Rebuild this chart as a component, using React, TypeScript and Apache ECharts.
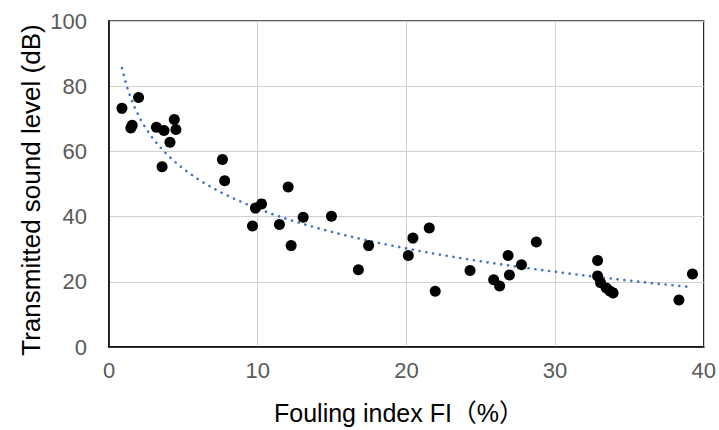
import React, { useEffect, useRef } from "react";
import * as echarts from "echarts";

const foulingIndex = [
  0.87, 1.47, 1.56, 1.99, 3.19, 3.57, 3.7, 4.1, 4.39, 4.5, 7.63, 7.78, 9.65, 9.85,
  10.26, 11.46, 12.05, 12.25, 13.06, 14.96, 16.77, 17.46, 20.13, 20.44, 21.54, 21.94,
  24.28, 25.87, 26.27, 26.84, 26.93, 27.74, 28.74, 32.86, 32.86, 33.06, 33.44, 33.69,
  33.9, 38.33, 39.24,
];
const soundLevel = [
  73.2, 67.2, 68.0, 76.5, 67.4, 55.3, 66.4, 62.8, 69.8, 66.7, 57.5, 51.0, 37.1, 42.6,
  43.9, 37.6, 49.1, 31.1, 39.8, 40.1, 23.7, 31.1, 28.1, 33.4, 36.5, 17.1, 23.5, 20.6,
  18.7, 28.1, 22.1, 25.2, 32.2, 26.5, 21.8, 19.7, 18.1, 17.2, 16.6, 14.4, 22.4,
];
const xTicks = [0, 10, 20, 30, 40];
const yTicks = [0, 20, 40, 60, 80, 100];
const xTitle = "Fouling index FI（%）";
const yTitle = "Transmitted sound level (dB)";

// Logarithmic trendline (least squares on ln x), as the spreadsheet trendline
function logTrend(xs: number[], ys: number[]) {
  const n = xs.length;
  const lx = xs.map((v) => Math.log(v));
  const mx = lx.reduce((a, b) => a + b, 0) / n;
  const my = ys.reduce((a, b) => a + b, 0) / n;
  let sxy = 0;
  let sxx = 0;
  for (let i = 0; i < n; i++) {
    sxy += (lx[i] - mx) * (ys[i] - my);
    sxx += (lx[i] - mx) * (lx[i] - mx);
  }
  const a = sxy / sxx;
  const b = my - a * mx;
  const xmin = Math.min(...xs);
  const xmax = Math.max(...xs);
  const pts: number[][] = [];
  const steps = 120;
  for (let i = 0; i <= steps; i++) {
    const x = xmin + ((xmax - xmin) * i) / steps;
    pts.push([x, a * Math.log(x) + b]);
  }
  return pts;
}

const FONT = "'Liberation Sans', Arial, 'Noto Sans CJK JP', sans-serif";

export default function App() {
  const ref = useRef<HTMLDivElement>(null);
  useEffect(() => {
    if (!ref.current) return;
    const chart = echarts.init(ref.current, undefined, { renderer: "svg" });
    const points = foulingIndex.map((x, i) => [x, soundLevel[i]]);
    chart.setOption({
      animation: false,
      backgroundColor: "#ffffff",
      textStyle: { fontFamily: FONT },
      grid: {
        left: 109,
        right: 12,
        top: 21,
        bottom: 83,
        show: true,
        borderColor: "#262626",
        borderWidth: 1.5,
      },
      xAxis: {
        type: "value",
        min: xTicks[0],
        max: xTicks[xTicks.length - 1],
        interval: xTicks[1] - xTicks[0],
        axisLine: { show: true, lineStyle: { color: "#000", width: 1.5 } },
        axisTick: { show: false },
        splitLine: { show: true, lineStyle: { color: "#d0d0d0", width: 1 } },
        axisLabel: { color: "#595959", fontSize: 22, margin: 12, fontFamily: FONT },
      },
      yAxis: {
        type: "value",
        min: yTicks[0],
        max: yTicks[yTicks.length - 1],
        interval: yTicks[1] - yTicks[0],
        axisLine: { show: true, lineStyle: { color: "#000", width: 1.5 } },
        axisTick: { show: false },
        splitLine: { show: true, lineStyle: { color: "#d0d0d0", width: 1 } },
        axisLabel: { color: "#595959", fontSize: 22, margin: 22, fontFamily: FONT },
      },
      graphic: [
        {
          type: "text",
          left: 274,
          top: 400,
          style: { text: xTitle, fontSize: 25, fill: "#000", fontFamily: FONT },
        },
        {
          type: "text",
          x: 31,
          y: 190,
          rotation: Math.PI / 2,
          style: {
            text: yTitle,
            fontSize: 26,
            fill: "#000",
            fontFamily: FONT,
            align: "center",
            verticalAlign: "middle",
          },
        },
      ],
      series: [
        {
          type: "line",
          data: logTrend(foulingIndex, soundLevel),
          showSymbol: false,
          symbol: "none",
          smooth: false,
          z: 3,
          lineStyle: {
            color: "#4472C4",
            width: 2.6,
            type: [0.1, 6.8],
            cap: "round",
          },
        },
        {
          type: "scatter",
          data: points,
          symbol: "circle",
          symbolSize: 11,
          z: 4,
          itemStyle: { color: "#000", opacity: 1 },
        },
      ],
    });
    return () => chart.dispose();
  }, []);
  return (
    <div
      ref={ref}
      style={{ position: "fixed", left: 0, top: 0, width: 719, height: 430 }}
    />
  );
}
